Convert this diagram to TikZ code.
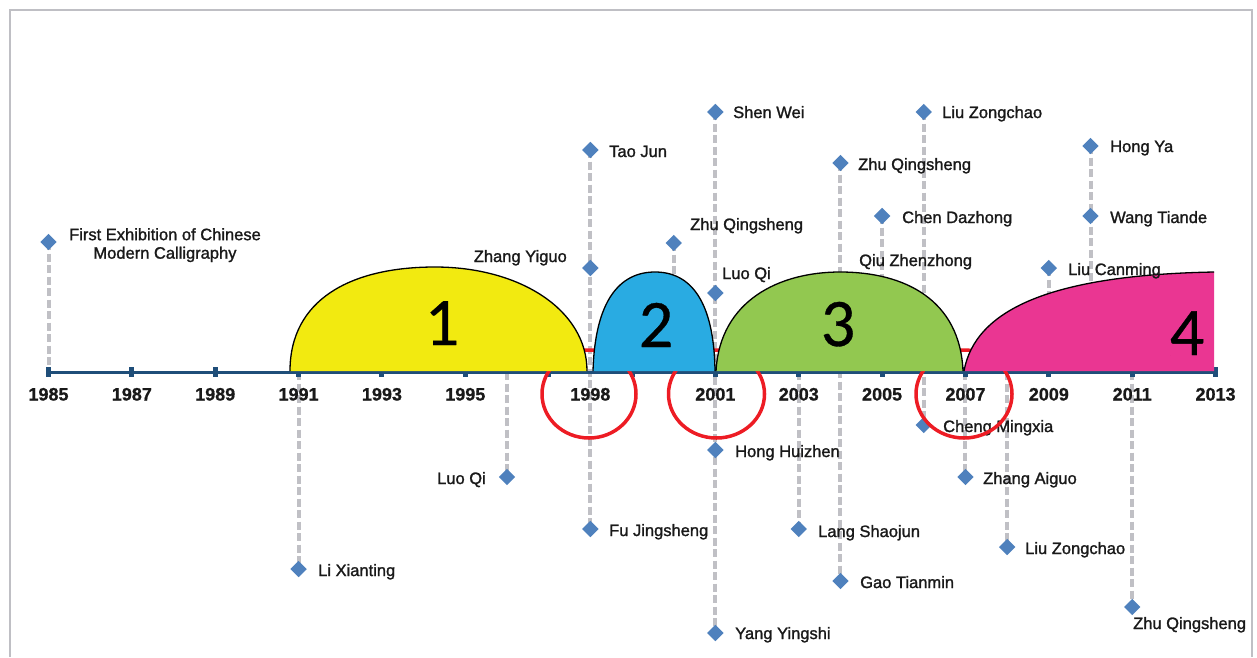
\documentclass[tikz,border=0pt]{standalone}
\usepackage{fontspec}
\usetikzlibrary{shapes.geometric}
\setmainfont{Liberation Sans}
\newfontfamily\namefont[FakeBold=1.4]{Liberation Sans}
\newfontfamily\yearfont[BoldFeatures={FakeBold=0.8}]{Liberation Sans}
\newfontfamily\bigfont[FakeBold=0.5]{Carlito}
\definecolor{framec}{RGB}{191,191,196}
\definecolor{lgray}{RGB}{192,192,197}
\definecolor{dblue}{RGB}{79,129,189}
\definecolor{axisc}{RGB}{31,78,121}
\definecolor{txt}{RGB}{25,25,25}
\definecolor{cyel}{RGB}{242,234,16}
\definecolor{cblue}{RGB}{41,171,226}
\definecolor{cgreen}{RGB}{146,200,80}
\definecolor{cpink}{RGB}{234,54,146}
\definecolor{cred}{RGB}{237,28,36}
\begin{document}
\begin{tikzpicture}[x=1pt,y=-1pt,
  declare function={yr(\t)=48.5+(\t-1985)*41.68;},
  gline/.style={draw=lgray, line width=4pt, dash pattern=on 8pt off 3.5pt},
  dmd/.style={diamond, fill=dblue, draw=none, minimum size=16.5pt, inner sep=0pt},
  namelab/.style={font=\namefont\fontsize{16.5}{18.5}\selectfont, text=txt, inner sep=0pt},
  yearlab/.style={font=\yearfont\bfseries\fontsize{18}{20}\selectfont, inner sep=0pt, anchor=base, text=txt},
  domeline/.style={draw=black, line width=1.3pt},
  bignum/.style={font=\bigfont\fontsize{68}{70}\selectfont, anchor=base, inner sep=0pt, text=black},
  ringline/.style={draw=cred, line width=3.5pt}
]
\useasboundingbox (0,0) rectangle (1257,657);
% frame
\draw[framec, line width=2.8pt] (10,657) -- (10,10) -- (1252,10) -- (1252,657);

% marker positions
\coordinate (p85) at ({yr(1985)},242);
\coordinate (p98a) at ({yr(1998)},150);
\coordinate (p98b) at ({yr(1998)},268);
\coordinate (p98c) at ({yr(1998)},529);
\coordinate (p00) at ({yr(2000)},243);
\coordinate (p01a) at ({yr(2001)},112);
\coordinate (p01b) at ({yr(2001)},293);
\coordinate (p01c) at ({yr(2001)},450);
\coordinate (p01d) at ({yr(2001)},633);
\coordinate (p04a) at ({yr(2004)},163);
\coordinate (p04b) at ({yr(2004)},581);
\coordinate (p05) at ({yr(2005)},216);
\coordinate (p06a) at ({yr(2006)},112);
\coordinate (p06b) at ({yr(2006)},425);
\coordinate (p09) at ({yr(2009)},268);
\coordinate (p10a) at ({yr(2010)},146);
\coordinate (p10b) at ({yr(2010)},216);
\coordinate (p91) at ({yr(1991)},569);
\coordinate (p96) at ({yr(1996)},477);
\coordinate (p03) at ({yr(2003)},529);
\coordinate (p07) at ({yr(2007)},477);
\coordinate (p08) at ({yr(2008)},547);
\coordinate (p11) at ({yr(2011)},607);
% axis points
\foreach \y in {1985,1991,1996,2000,2003,2005,2007,2008,2009,2010,2011,2013}
  \coordinate (ax\y) at ({yr(\y)},372);

% dashed drop lines
\draw[gline] (p85) -- (ax1985);
\draw[gline] (ax1991) -- (p91);
\draw[gline] (ax1996) -- (p96);
\draw[gline] (p98a) -- (p98c);
\draw[gline] (p00) -- (ax2000);
\draw[gline] (p01a) -- (p01d);
\draw[gline] (ax2003) -- (p03);
\draw[gline] (p04a) -- (p04b);
\draw[gline] (p05) -- (ax2005);
\draw[gline] (p06a) -- (p06b);
\draw[gline] (ax2007) -- (p07);
\draw[gline] (ax2008) -- (p08);
\draw[gline] (p09) -- (ax2009);
\draw[gline] (p10a) -- (ax2010);
\draw[gline] (ax2011) -- (p11);

% axis
\draw[axisc, line width=3pt] (ax1985) -- (ax2013);
\foreach \y in {1985,1987,...,2013}
  \fill[axisc] ({yr(\y)-2.5},367) rectangle ({yr(\y)+2.5},377);

% year labels
\foreach \y in {1985,1987,1989,1991,1993,1995,1998,2001,2003,2005,2007,2009,2011,2013}
  \node[yearlab] (yl\y) at ({yr(\y)},400.5) {\y};

% diamonds
\foreach \p in {p85,p98a,p98b,p98c,p00,p01a,p01b,p01c,p01d,p04a,p04b,p05,p06a,p06b,p09,p10a,p10b,p91,p96,p03,p07,p08,p11}
  \node[dmd] (d\p) at (\p) {};

% labels
\node[namelab, anchor=north, align=center] (l85) at (165,228) {First Exhibition of Chinese\\Modern Calligraphy};
\node[namelab, anchor=base east] (l98b) at (567,262) {Zhang Yiguo};
\node[namelab, anchor=base west] (l98a) at (609,157) {Tao Jun};
\node[namelab, anchor=base west] (l00) at (690,230) {Zhu Qingsheng};
\node[namelab, anchor=base west] (l01a) at (733,118) {Shen Wei};
\node[namelab, anchor=base west] (l01b) at (722,279) {Luo Qi};
\node[namelab, anchor=base west] (l04a) at (858,170) {Zhu Qingsheng};
\node[namelab, anchor=base west] (l05) at (902,223) {Chen Dazhong};
\node[namelab, anchor=base west] (lqiu) at (859,266) {Qiu Zhenzhong};
\node[namelab, anchor=base west] (l06a) at (942,118) {Liu Zongchao};
\node[namelab, anchor=base west] (l10a) at (1110,152) {Hong Ya};
\node[namelab, anchor=base west] (l10b) at (1110,223) {Wang Tiande};
\node[namelab, anchor=base west] (l91) at (318,576) {Li Xianting};
\node[namelab, anchor=base east] (l96) at (486,484) {Luo Qi};
\node[namelab, anchor=base west] (l98c) at (609,536) {Fu Jingsheng};
\node[namelab, anchor=base west] (l01c) at (735,457) {Hong Huizhen};
\node[namelab, anchor=base west] (l01d) at (735,639) {Yang Yingshi};
\node[namelab, anchor=base west] (l03) at (818,537) {Lang Shaojun};
\node[namelab, anchor=base west] (l04b) at (860,588) {Gao Tianmin};
\node[namelab, anchor=base west] (l06b) at (943,432) {Cheng Mingxia};
\node[namelab, anchor=base west] (l07) at (983,484) {Zhang Aiguo};
\node[namelab, anchor=base west] (l08) at (1025,554) {Liu Zongchao};
\node[namelab, anchor=base west] (l11) at (1133,629) {Zhu Qingsheng};

% red rings
\draw[ringline] (589,394) ellipse [x radius=47pt, y radius=44pt];
\draw[ringline] (716.5,394) ellipse [x radius=48pt, y radius=44pt];
\draw[ringline] (964,394) ellipse [x radius=48pt, y radius=44pt];

% domes
\fill[cyel] (290,371) .. controls (290,300) and (350,267) .. (435,267) .. controls (520,267) and (587,310) .. (587,371) -- cycle;
\draw[domeline] (290,371) .. controls (290,300) and (350,267) .. (435,267) .. controls (520,267) and (587,310) .. (587,371);
\fill[cblue] (593,371) .. controls (595,300) and (620,272) .. (655,272) .. controls (690,272) and (714,300) .. (715,371) -- cycle;
\draw[domeline] (593,371) .. controls (595,300) and (620,272) .. (655,272) .. controls (690,272) and (714,300) .. (715,371);
\fill[cgreen] (716,371) .. controls (720,300) and (780,272) .. (840,272) .. controls (905,272) and (960,300) .. (963,371) -- cycle;
\draw[domeline] (716,371) .. controls (720,300) and (780,272) .. (840,272) .. controls (905,272) and (960,300) .. (963,371);
\fill[cpink] (964,371) .. controls (975,310) and (1050,275) .. (1214,272) -- (1214,371) -- cycle;
\draw[domeline] (964,371) .. controls (975,310) and (1050,275) .. (1214,272);

% phase numbers
\node[bignum] (n1) at (442,345) {1};
\node[bignum] (n2) at (656,347) {2};
\node[bignum] (n3) at (838,346) {3};
\node[bignum] (n4) at (1187,355) {4};

\node[namelab, anchor=base west] (l09) at (1068,275) {Liu Canming};
\end{tikzpicture}
\end{document}
